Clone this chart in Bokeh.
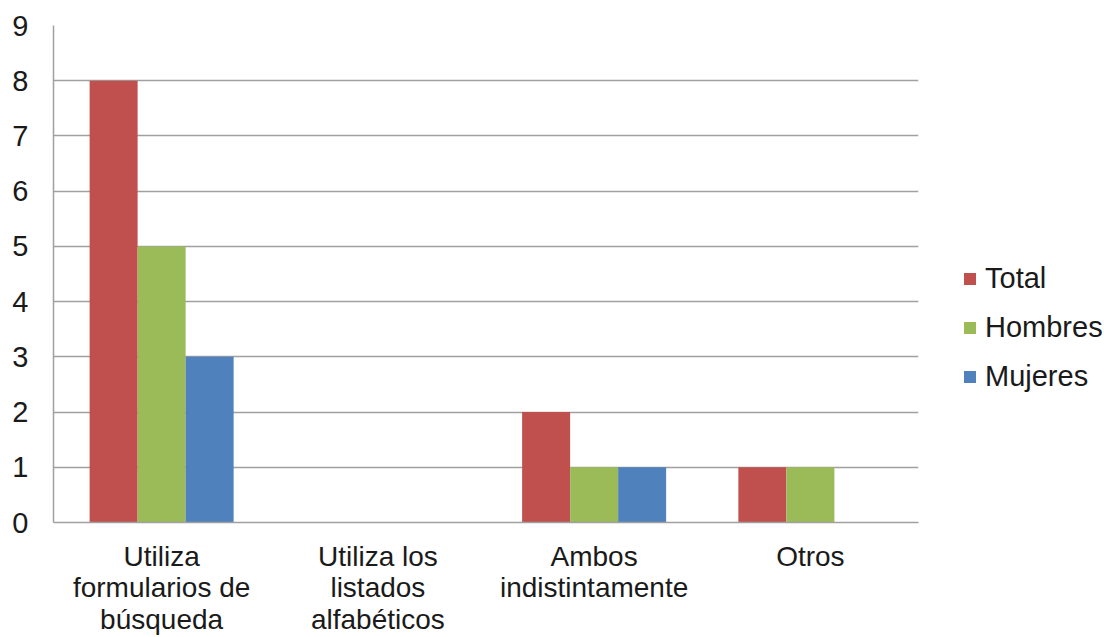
from bokeh.plotting import figure
from bokeh.models import ColumnDataSource, FactorRange, FixedTicker, Range1d, Legend, LegendItem
from bokeh.transform import dodge
from bokeh.embed import file_html
from bokeh.resources import INLINE

categories = ["Utiliza\nformularios de\nbúsqueda", "Utiliza los\nlistados\nalfabéticos",
              "Ambos\nindistintamente", "Otros"]
total = [8, 0, 2, 1]
hombres = [5, 0, 1, 1]
mujeres = [3, 0, 1, 0]
series_names = ["Total", "Hombres", "Mujeres"]
colors = ["#C0504D", "#9BBB59", "#4F81BD"]
y_ticks = list(range(0, 10))

src = ColumnDataSource(dict(cat=categories, total=total, hombres=hombres, mujeres=mujeres))

FONT = "Liberation Sans"
TXT = "#1a1a1a"
GRID = "#a0a0a0"

p = figure(x_range=FactorRange(*categories), y_range=Range1d(0, 9),
           frame_width=865, frame_height=497, output_backend="svg", toolbar_location=None,
           min_border_left=53, min_border_right=10, min_border_top=25, min_border_bottom=115)

bw = 0.222
items = []
for key, name, col, off in zip(["total", "hombres", "mujeres"], series_names, colors, [-bw, 0, bw]):
    r = p.vbar(x=dodge("cat", off, range=p.x_range), top=key, width=bw, source=src,
               fill_color=col, line_color=None)
    items.append(LegendItem(label=name, renderers=[r]))

p.outline_line_color = None
p.xgrid.grid_line_color = None
p.ygrid.grid_line_color = GRID
p.ygrid.grid_line_width = 1.5
p.yaxis.ticker = FixedTicker(ticks=y_ticks)

for ax in (p.xaxis[0], p.yaxis[0]):
    ax.axis_line_color = GRID
    ax.axis_line_width = 1.5
    ax.major_tick_line_color = None
    ax.minor_tick_line_color = None
    ax.major_tick_out = 0
    ax.major_tick_in = 0
    ax.major_label_text_font = FONT
    ax.major_label_text_color = TXT

p.yaxis.major_label_text_font_size = "29px"
p.yaxis.major_label_standoff = 25
p.xaxis.major_label_text_font_size = "28px"
p.xaxis.major_label_standoff = 18
p.xaxis.major_label_text_line_height = 1.02
p.xaxis.major_label_orientation = "horizontal"

lg = Legend(items=items, location=(44, 129))
lg.padding = 0
lg.margin = 0
lg.border_line_color = None
lg.background_fill_alpha = 0
lg.glyph_width = 15
lg.glyph_height = 15
lg.label_height = 30
lg.spacing = 16
lg.label_standoff = 8
lg.label_text_font = FONT
lg.label_text_font_size = "29px"
lg.label_text_color = TXT
p.add_layout(lg, "right")
p.min_border_right = 186

open("out.html", "w").write(file_html(p, INLINE))
